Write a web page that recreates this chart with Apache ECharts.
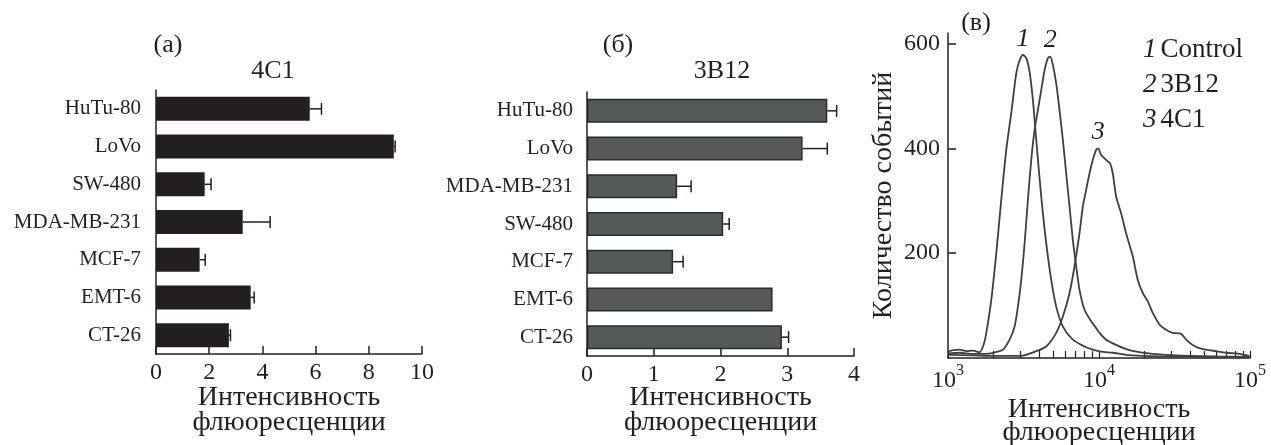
<!DOCTYPE html>
<html>
<head>
<meta charset="utf-8">
<script src="https://cdn.jsdelivr.net/npm/echarts@6/dist/echarts.min.js"></script>
<style>html,body{margin:0;padding:0;background:#fff;}#c{width:1271px;height:445px;}</style>
</head>
<body>
<div id="c"></div>
<script>
// ---- Panel (а): 4C1 ----
const catsA = ['HuTu-80', 'LoVo', 'SW-480', 'MDA-MB-231', 'MCF-7', 'EMT-6', 'CT-26'];
const valsA = [5.78, 8.94, 1.83, 3.26, 1.64, 3.56, 2.74];
const errA  = [0.44, 0.05, 0.24, 1.03, 0.21, 0.13, 0.06];
// ---- Panel (б): 3B12 ----
const catsB = ['HuTu-80', 'LoVo', 'MDA-MB-231', 'SW-480', 'MCF-7', 'EMT-6', 'CT-26'];
const valsB = [3.60, 3.23, 1.35, 2.04, 1.29, 2.78, 2.92];
const errB  = [0.14, 0.37, 0.21, 0.09, 0.15, 0, 0.10];
// ---- Panel (в): histograms ----
const ctrlI = [1000,1079,1195,1322,1464,1620,1720,1793,1935,2088,2253,2431,2624,2831,2980,3135,3298,3470,3650,3840,4144,4472,4826,5207,5764,6712,8018,9103,10335,12344,15121,19498,25130,41754,98994];
const ctrlN = [12,15,16,13,14,11,25,48,111,200,302,397,467,543,568,578,572,546,492,416,308,219,149,98,60,35,22,16,12,10,6,4,3,2,2];
const b12I = [1000,1195,1464,1793,1985,2311,2558,2761,2905,3056,3216,3383,3559,3744,3939,4144,4360,4587,4753,4950,5207,5479,5764,6064,6380,6712,7062,7430,8018,8875,9578,10077,11153,12987,15121,18530,22701,32391,60000,98994];
const b12N = [9,10,8,8,10,16,35,60,98,149,219,302,378,435,473,511,549,572,575,559,524,473,416,352,289,225,175,130,92,70,57,48,35,25,17,11,8,5,3,2];
const c41I = [1000,1464,1985,2980,3298,3840,4472,5207,5764,6380,6884,7430,7817,8224,8652,9103,9578,9874,10335,10873,11440,11853,12344,12987,14015,15121,15909,16738,18066,19498,21037,22701,25130,27816,30787,34970,37724,41754,46217,51166,59590,69384,85017,98994];
const c41N = [6,5,4,4,6,13,22,48,79,124,175,238,289,321,352,378,397,400,387,381,375,371,352,308,276,238,216,194,149,124,108,86,64,54,48,46,35,25,19,16,13,10,8,4];
const curveNames = ['Control', '3B12', '4C1'];
const curveTags = ['1', '2', '3'];
const xTicksLog = [1000,2000,3000,4000,5000,6000,7000,8000,9000,10000,20000,30000,40000,50000,60000,70000,80000,90000,100000];

const INK = '#231f20';
const FONT = 'Liberation Serif';

function errSeries(vals, errs, xi, yi) {
  return {
    type: 'custom', xAxisIndex: xi, yAxisIndex: yi, z: 5,
    data: vals.map((v, i) => [i, v, v + errs[i]]),
    encode: { x: [1, 2], y: 0 },
    renderItem: function (params, api) {
      const m = api.value(1), e = api.value(2);
      if (e - m <= 0.0001) return null;
      const p0 = api.coord([m, api.value(0)]);
      const p1 = api.coord([e, api.value(0)]);
      return {
        type: 'group', children: [
          { type: 'line', shape: { x1: p0[0], y1: p0[1], x2: p1[0], y2: p1[1] }, style: { stroke: INK, lineWidth: 1.5 } },
          { type: 'line', shape: { x1: p1[0], y1: p1[1] - 6, x2: p1[0], y2: p1[1] + 6 }, style: { stroke: INK, lineWidth: 1.5 } }
        ]
      };
    }
  };
}

function catAxis(cats, gi, margin) {
  return {
    type: 'category', gridIndex: gi, data: cats, inverse: true,
    axisLine: { lineStyle: { color: INK, width: 1.5 } },
    axisTick: { alignWithLabel: true, length: 9, lineStyle: { color: INK, width: 1.5 } },
    axisLabel: { color: INK, fontFamily: FONT, fontSize: 21, margin: margin }
  };
}
function valAxis(gi, max, interval, gap) {
  return {
    type: 'value', gridIndex: gi, min: 0, max: max, interval: interval,
    splitLine: { show: false },
    axisLine: { show: true, lineStyle: { color: INK, width: 1.5 } },
    axisTick: { show: true, inside: true, length: 8, lineStyle: { color: INK, width: 1.5 } },
    axisLabel: { color: INK, fontFamily: FONT, fontSize: 24, margin: 7 },
    name: 'Интенсивность\nфлюоресценции', nameLocation: 'middle', nameGap: gap, nameMoveOverlap: false,
    nameTextStyle: { color: INK, fontFamily: FONT, fontSize: 28, lineHeight: 25 }
  };
}

const curveData = [[ctrlI, ctrlN], [b12I, b12N], [c41I, c41N]];
const curveSeries = curveData.map((cd, k) => {
  const pts = cd[0].map((x, i) => [x, cd[1][i]]);
  let pk = 0;
  cd[1].forEach((v, i) => { if (v > cd[1][pk]) pk = i; });
  return {
    type: 'line', name: curveNames[k], xAxisIndex: 2, yAxisIndex: 2,
    data: pts, showSymbol: false, smooth: 0.25,
    lineStyle: { color: '#3f3f3f', width: 1.8 }, itemStyle: { color: '#3f3f3f' },
    markPoint: {
      symbol: 'circle', symbolSize: 0, silent: true,
      data: [{ coord: pts[pk] }],
      label: { show: true, position: 'top', distance: 3, formatter: curveTags[k], color: INK, fontFamily: FONT, fontSize: 26, fontStyle: 'italic' }
    }
  };
});

const option = {
  animation: false,
  backgroundColor: '#fff',
  grid: [
    { left: 156, top: 90, width: 266, height: 264, outerBoundsMode: 'none' },
    { left: 587, top: 92, width: 267, height: 264, outerBoundsMode: 'none' },
    { left: 948, top: 33, width: 302, height: 325, outerBoundsMode: 'none' }
  ],
  xAxis: [
    valAxis(0, 10, 2, 31),
    valAxis(1, 4, 1, 29),
    {
      type: 'log', gridIndex: 2, logBase: 10, min: 1000, max: 100000,
      splitLine: { show: false },
      axisLine: { lineStyle: { color: INK, width: 1.5 } },
      axisTick: { show: true, inside: true, length: 7, customValues: xTicksLog, lineStyle: { color: INK, width: 1.2 } },
      axisLabel: {
        customValues: [1000, 10000, 100000], margin: 5, color: INK,
        formatter: v => '{b|10}{s|' + Math.round(Math.log10(v)) + '}',
        rich: {
          b: { fontFamily: FONT, fontSize: 24, color: INK, padding: [6, 0, 0, 0] },
          s: { fontFamily: FONT, fontSize: 16, color: INK, verticalAlign: 'top' }
        }
      },
      name: 'Интенсивность\nфлюоресценции', nameLocation: 'middle', nameGap: 40, nameMoveOverlap: false,
      nameTextStyle: { color: INK, fontFamily: FONT, fontSize: 28, lineHeight: 23 }
    }
  ],
  yAxis: [
    catAxis(catsA, 0, 15),
    catAxis(catsB, 1, 14),
    {
      type: 'value', gridIndex: 2, min: 0, max: 620,
      splitLine: { show: false },
      axisLine: { show: true, lineStyle: { color: INK, width: 1.5 } },
      axisTick: { show: true, inside: true, length: 8, customValues: [200, 400, 600], lineStyle: { color: INK, width: 1.5 } },
      axisLabel: { customValues: [200, 400, 600], color: INK, fontFamily: FONT, fontSize: 24, margin: 8 },
      name: 'Количество событий', nameLocation: 'middle', nameGap: 50, nameMoveOverlap: false,
      nameTextStyle: { color: INK, fontFamily: FONT, fontSize: 28 }
    }
  ],
  legend: {
    orient: 'vertical', left: 1132, top: 31, itemGap: 8, itemWidth: 0, itemHeight: 0,
    selectedMode: false, data: curveNames,
    formatter: name => '{i|' + curveTags[curveNames.indexOf(name)] + '}' + name,
    textStyle: {
      color: INK, fontFamily: FONT, fontSize: 27,
      rich: { i: { fontFamily: FONT, fontSize: 27, fontStyle: 'italic', color: INK, padding: [0, 4, 0, 0] } }
    }
  },
  graphic: [
    { type: 'text', x: 168, y: 45, style: { text: '(а)', fontFamily: FONT, fontSize: 26, fill: INK, align: 'center', verticalAlign: 'middle' } },
    { type: 'text', x: 273, y: 71, style: { text: '4C1', fontFamily: FONT, fontSize: 26, fill: INK, align: 'center', verticalAlign: 'middle' } },
    { type: 'text', x: 618, y: 45, style: { text: '(б)', fontFamily: FONT, fontSize: 26, fill: INK, align: 'center', verticalAlign: 'middle' } },
    { type: 'text', x: 722, y: 71, style: { text: '3B12', fontFamily: FONT, fontSize: 26, fill: INK, align: 'center', verticalAlign: 'middle' } },
    { type: 'text', x: 976, y: 23, style: { text: '(в)', fontFamily: FONT, fontSize: 26, fill: INK, align: 'center', verticalAlign: 'middle' } }
  ],
  series: [
    { type: 'bar', xAxisIndex: 0, yAxisIndex: 0, data: valsA, barWidth: 24, itemStyle: { color: INK } },
    errSeries(valsA, errA, 0, 0),
    { type: 'bar', xAxisIndex: 1, yAxisIndex: 1, data: valsB, barWidth: 24, itemStyle: { color: '#55595a', borderColor: '#2a2a2a', borderWidth: 1.5 } },
    errSeries(valsB, errB, 1, 1)
  ].concat(curveSeries)
};

const chart = echarts.init(document.getElementById('c'), null, { renderer: 'canvas' });
chart.setOption(option);
</script>
</body>
</html>
